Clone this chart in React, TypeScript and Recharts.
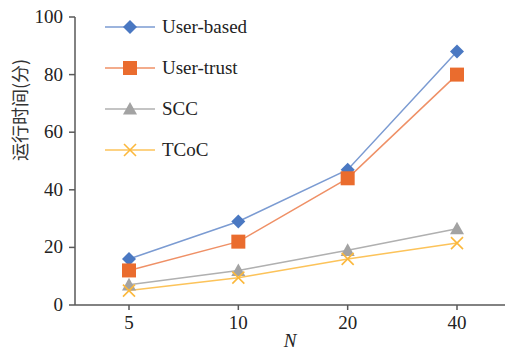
import React from 'react'
import { LineChart, Line, XAxis, YAxis } from 'recharts'

const categories = ['5', '10', '20', '40']
const userBased = [16, 29, 47, 88]
const userTrust = [12, 22, 44, 80]
const scc = [7, 12, 19, 26.5]
const tcoc = [5, 9.5, 16, 21.5]
const yTicks = [0, 20, 40, 60, 80, 100]

const data = categories.map((n, i) => ({
  n,
  userBased: userBased[i],
  userTrust: userTrust[i],
  scc: scc[i],
  tcoc: tcoc[i],
}))

const serif = 'Liberation Serif'
const axisColor = '#595959'

type Shape = 'diamond' | 'square' | 'triangle' | 'cross'

function marker(shape: Shape, cx: number, cy: number, color: string, key?: any) {
  if (shape === 'diamond') {
    const r = 7
    return <path key={key} d={`M${cx},${cy - r}L${cx + r},${cy}L${cx},${cy + r}L${cx - r},${cy}Z`} fill={color} />
  }
  if (shape === 'square') {
    const r = 7
    return <rect key={key} x={cx - r} y={cy - r} width={2 * r} height={2 * r} fill={color} />
  }
  if (shape === 'triangle') {
    const r = 7
    return <path key={key} d={`M${cx},${cy - r}L${cx + r},${cy + r * 0.8}L${cx - r},${cy + r * 0.8}Z`} fill={color} />
  }
  const r = 6
  return (
    <g key={key}>
      <line x1={cx - r} y1={cy - r} x2={cx + r} y2={cy + r} stroke={color} strokeWidth={1.6} />
      <line x1={cx - r} y1={cy + r} x2={cx + r} y2={cy - r} stroke={color} strokeWidth={1.6} />
    </g>
  )
}

const series = [
  { key: 'userBased', name: 'User-based', line: '#7b9bd2', mark: '#4a78c2', shape: 'diamond' as Shape },
  { key: 'userTrust', name: 'User-trust', line: '#ef9066', mark: '#ea6c2e', shape: 'square' as Shape },
  { key: 'scc', name: 'SCC', line: '#b0b0b0', mark: '#a3a3a3', shape: 'triangle' as Shape },
  { key: 'tcoc', name: 'TCoC', line: '#fcc35a', mark: '#fbb83c', shape: 'cross' as Shape },
]

const XTick = (p: any) => (
  <text x={p.x} y={p.y + 17} textAnchor="middle" fontFamily={serif} fontSize={19} fill="#222">
    {p.payload.value}
  </text>
)

const YTick = (p: any) => (
  <text x={p.x} y={p.y + 6} textAnchor="end" fontFamily={serif} fontSize={19} fill="#222">
    {p.payload.value}
  </text>
)

function LegendBox() {
  return (
    <svg width={180} height={150} style={{ position: 'absolute', left: 103, top: 17 }}>
      {series.map((s, i) => {
        const y = 10 + i * 41
        return (
          <g key={s.key}>
            <line x1={2} x2={52} y1={y} y2={y} stroke={s.line} strokeWidth={1.5} />
            {marker(s.shape, 27, y, s.mark)}
            <text x={59} y={y + 6} fontFamily={serif} fontSize={19} fill="#222">
              {s.name}
            </text>
          </g>
        )
      })}
    </svg>
  )
}

export default function App() {
  return (
    <div style={{ position: 'absolute', left: 0, top: 0, width: 505, height: 350, background: '#fff' }}>
      <LineChart width={505} height={350} data={data} margin={{ top: 17, right: 0, left: 0, bottom: 15 }}>
        <XAxis
          dataKey="n"
          padding={{ left: 54, right: 48 }}
          stroke={axisColor}
          strokeWidth={1.5}
          tickSize={5}
          tick={XTick}
          tickMargin={2}
          label={{ value: 'N', position: 'insideBottom', offset: -12, fontFamily: serif, fontStyle: 'italic', fontSize: 19, fill: '#222' }}
        />
        <YAxis
          width={75}
          domain={[0, 100]}
          ticks={yTicks}
          stroke={axisColor}
          strokeWidth={1.5}
          tickSize={6}
          tickMargin={6}
          tick={YTick}
          label={{
            value: '运行时间(分)',
            angle: -90,
            position: 'insideLeft',
            offset: 21,
            fontFamily: 'Noto Sans CJK SC',
            fontSize: 18,
            fill: '#333',
          }}
        />
        {series.map(s => (
          <Line
            key={s.key}
            dataKey={s.key}
            name={s.name}
            stroke={s.line}
            strokeWidth={1.5}
            isAnimationActive={false}
            dot={(p: any) => marker(s.shape, p.cx, p.cy, s.mark, p.index)}
            activeDot={false}
          />
        ))}
      </LineChart>
      <LegendBox />
    </div>
  )
}
